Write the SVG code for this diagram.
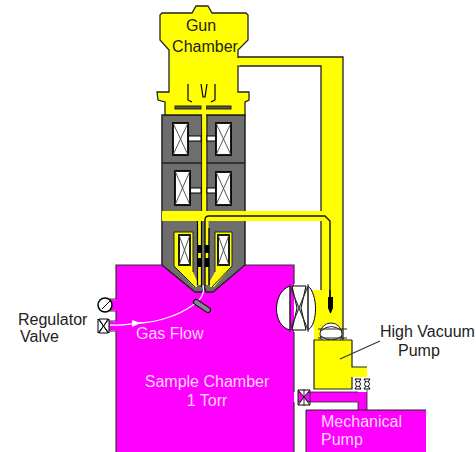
<svg xmlns="http://www.w3.org/2000/svg" width="476" height="452" viewBox="0 0 476 452">
<style>
.t{font-family:"Liberation Sans",Arial,sans-serif;font-size:16px;fill:#222}
.w{font-family:"Liberation Sans",Arial,sans-serif;font-size:16px;fill:#ffd8ff}
.k{stroke:#000;stroke-width:1.2;fill:none}
.y{fill:#ffff00}
.m{fill:#ff00ff}
.g{fill:#6e6e6e;stroke:#222;stroke-width:1.5}
.c{fill:#fff;stroke:#000;stroke-width:1.8}
.x{stroke:#444;stroke-width:.9;fill:none}
.b{fill:#fff;stroke:#000;stroke-width:1}
</style>
<rect width="476" height="452" fill="#fff"/>
<g id="sample-chamber">
<path class="m" d="M116 265H294V452H116Z"/>
<path d="M116 452V331H110V321H116V311H110V299H116V265H294V284M294 332V392M294 402V452" stroke="#333" stroke-width="1.2" fill="none"/>
<rect class="m" x="110" y="299.500" width="7" height="11"/>
<rect class="m" x="110" y="321.500" width="7" height="9"/>
<text class="w" x="207" y="387" text-anchor="middle">Sample Chamber</text>
<text class="w" x="207" y="406" text-anchor="middle">1 Torr</text>
</g>
<g id="vacuum-pipes">
<path class="y" d="M238 57H343V340H314V325H310V290H321V66H238Z"/>
<path d="M238 57H343V340M238 66H321V290" stroke="#222" stroke-width="1.3" fill="none"/>
</g>
<g id="electron-column">
<path class="g" d="M162 115H245V265L213 292H206L204 286L202 292H195L162 265Z"/>
<path d="M162 163H245" stroke="#222" stroke-width="1.5"/>
<rect class="y" x="162" y="211" width="160" height="10"/>
<path class="y" d="M174 232H193V272L197 281V287H194L174 266Z"/>
<path class="y" d="M215 232H232V266L214 287H210V281L215 272Z"/>
<path d="M174 232H193V272M174 232V266L195 287M215 272V232H232V266L212 287" stroke="#222" stroke-width="1" fill="none"/>
<rect class="y" x="202" y="112" width="4.500" height="99"/>
<path d="M201.500 115V211M207 115V211" stroke="#222" stroke-width="1.2"/>
<rect class="y" x="198" y="221" width="3.500" height="64"/>
<rect class="y" x="205" y="221" width="3.500" height="64"/>
<path class="k" d="M197.500 221V285M201.500 221V287M209 228V285"/>
<path d="M205 286V220Q205 216 209 216H325L330 221V297" stroke="#111" stroke-width="1.4" fill="none"/>
<path d="M198 245h4v8h-4zM205 245h4v8h-4zM198 258h4v9h-4zM205 258h4v9h-4z" fill="#000"/>
<rect class="b" x="188" y="136" width="13" height="5"/><rect class="b" x="207" y="136" width="9" height="5"/>
<rect class="b" x="190" y="188" width="11" height="5"/><rect class="b" x="207" y="188" width="9" height="5"/>
<g id="coils">
<rect class="c" x="173" y="123" width="15" height="32"/><path class="x" d="M173 123L188 155M188 123L173 155"/>
<rect class="c" x="216" y="123" width="15" height="32"/><path class="x" d="M216 123L231 155M231 123L216 155"/>
<rect class="c" x="175" y="171" width="15" height="34"/><path class="x" d="M175 171L190 205M190 171L175 205"/>
<rect class="c" x="216" y="172" width="15" height="33"/><path class="x" d="M216 172L231 205M231 172L216 205"/>
<rect class="c" x="179" y="235" width="11" height="30"/><path class="x" d="M179 235L190 265M190 235L179 265"/>
<rect class="c" x="218" y="235" width="11" height="30"/><path class="x" d="M218 235L229 265M229 235L218 265"/>
</g>
</g>
<g id="gun-chamber">
<path class="y" stroke="#222" stroke-width="1.3" d="M196 6H208L212 13H246L248 15V40L238 50V92H249V100L245 102V115H165V102L158 100L157 92H169V50L160 40V15L162 13H192Z"/>
<rect class="y" x="236" y="58" width="4" height="7.500"/>
<path class="k" d="M188 84V100L192 102M201 84L203 97H205L207 84M215 84V100L211 102"/>
<rect x="175" y="106" width="26" height="3" fill="#555" stroke="#222"/>
<rect x="206" y="106" width="25" height="3" fill="#555" stroke="#222"/>
<rect class="y" x="202" y="104" width="4" height="12"/>
<text class="t" x="201" y="31" text-anchor="middle">Gun</text>
<text class="t" x="205" y="52" text-anchor="middle">Chamber</text>
</g>
<g id="gas-line">
<path d="M110 325C120 326 130 324 140 323C160 322 180 314 190 307C200 301 205 295 203 285" stroke="#fff" stroke-width="1.3" fill="none"/>
<path d="M132 320L141 323L132 327Z" fill="#fff"/>
<path d="M196 302L208 310" stroke="#000" stroke-width="6" stroke-linecap="round"/>
<path d="M196 302L208 310" stroke="#888" stroke-width="4" stroke-linecap="round"/>
</g>
<g id="gauge">
<circle cx="105" cy="305" r="7" fill="#fff" stroke="#000" stroke-width="1.5"/>
<path d="M102 309L110 301" stroke="#000"/>
</g>
<g id="regulator-valve">
<path class="b" d="M98 319V333L103.500 326ZM109 319V333L103.500 326Z"/>
<path class="b" d="M99 319H108L103.500 326ZM99 333H108L103.500 326Z"/>
<text class="t" x="18" y="325">Regulator</text>
<text class="t" x="20" y="342">Valve</text>
<text class="w" x="136" y="339">Gas Flow</text>
</g>
<g id="gate-valve">
<path class="b" d="M290 286C272 292 272 326 290 330ZM308 286C318 294 318 324 308 330Z"/>
<path class="b" d="M292 286H306L301 308L306 330H292L297 308Z"/>
<path d="M290 286L308 330M308 286L290 330M290 284V332M308 284V332" stroke="#333" stroke-width="1.1"/>
</g>
<g id="pump-valve">
<ellipse cx="331" cy="334" rx="11" ry="11" fill="#fff" stroke="#222" stroke-width="1"/>
<path d="M318 329H347M318 338H347M321 331Q331 322 342 331M321 336Q331 344 342 336" stroke="#222" stroke-width="1" fill="none"/>
<path d="M330 290V297" stroke="#000" stroke-width="1.4"/>
<path d="M328 297H333V308L331 313H330L328 308Z" fill="#000"/>
</g>
<g id="high-vacuum-pump">
<path class="y" d="M314 340H352V367H367V377H352V389H314Z"/>
<path d="M352 340H314V389H352V377M352 340V367H367" stroke="#222" stroke-width="1.2" fill="none"/>
<path d="M340 359L380 341" stroke="#333" stroke-width="1.1"/>
<text class="t" x="380" y="337">High Vacuum</text>
<text class="t" x="398" y="356">Pump</text>
</g>
<g id="mechanical-pump">
<path class="m" d="M298 392H367V410H358V402H298Z"/>
<path d="M298 392H358M298 402H358V410M367 390V410" stroke="#222" stroke-width=".8" fill="none"/>
<rect class="m" x="306" y="410" width="120" height="42"/>
<path d="M306 452V410H426" stroke="#222" stroke-width="1" fill="none"/>
<text class="w" x="321" y="427">Mechanical</text>
<text class="w" x="321" y="445">Pump</text>
</g>
<g id="backing-valves">
<path class="b" d="M355 379H361L358 384ZM355 389H361L358 384Z"/><circle cx="358" cy="384" r="2.500" fill="#fff" stroke="#000" stroke-width=".8"/>
<path class="b" d="M364 379H370L367 384ZM364 389H370L367 384Z"/><circle cx="367" cy="384" r="2.500" fill="#fff" stroke="#000" stroke-width=".8"/>
<path class="b" d="M298 390H310L304 397ZM298 405H310L304 397Z"/>
<path d="M304 389V406M298 390V405M310 390V405" stroke="#222" stroke-width="1"/>
</g>
</svg>
